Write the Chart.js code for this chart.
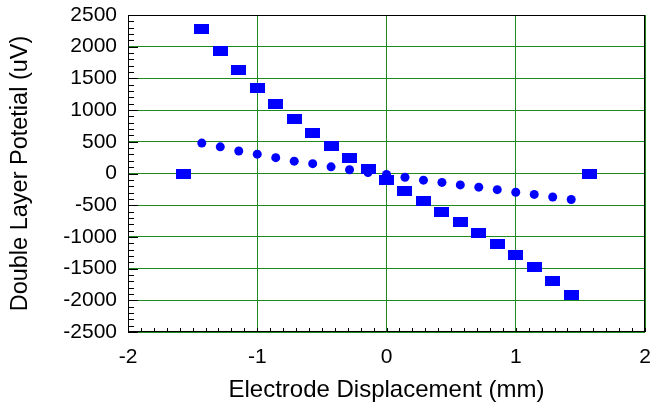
<!DOCTYPE html>
<html>
<head>
<meta charset="UTF-8">
<title>Double Layer Potential</title>
<script src="https://cdn.jsdelivr.net/npm/chart.js"></script>
<style>
    html, body { margin: 0; padding: 0; background: #fff; }
</style>
</head>
<body>
<canvas id="dlpChart" width="650" height="407"></canvas>

<script>
    // square markers
    var squareX = [-1.571, -1.429, -1.286, -1.143, -1.0, -0.857, -0.714, -0.571, -0.429, -0.286, -0.143, 0,
                   0.143, 0.286, 0.429, 0.571, 0.714, 0.857, 1.0, 1.143, 1.286, 1.429, 1.571];
    var squareY = [0, 2280, 1940, 1630, 1350, 1100, 860, 645, 440, 250, 75, -100,
                   -270, -440, -600, -770, -940, -1110, -1290, -1480, -1690, -1910, 0];

    // circle markers
    var circleX = [-1.429, -1.286, -1.143, -1.0, -0.857, -0.714, -0.571, -0.429, -0.286, -0.143, 0,
                   0.143, 0.286, 0.429, 0.571, 0.714, 0.857, 1.0, 1.143, 1.286, 1.429];
    var circleY = [480, 420, 355, 305, 250, 195, 155, 105, 60, 15, -15,
                   -60, -105, -140, -180, -215, -255, -295, -330, -370, -410];

    var xTicks = [-2, -1, 0, 1, 2];
    var yTicks = [-2500, -2000, -1500, -1000, -500, 0, 500, 1000, 1500, 2000, 2500];

    var blue = '#0000ff';
    var gridGreen = '#1f8a1f';
    var fontFamily = "'Liberation Sans', Arial, Helvetica, sans-serif";

    function toPoints(xs, ys) {
        return xs.map(function(x, i) { return { x: x, y: ys[i] }; });
    }

    // flat rectangle used as the square marker
    var rectMark = document.createElement('canvas');
    rectMark.width = 15;
    rectMark.height = 10;
    var g = rectMark.getContext('2d');
    g.fillStyle = blue;
    g.fillRect(0, 0, 15, 10);

    // frame + minor ticks
    var frameTicks = {
        id: 'frameTicks',
        beforeDatasetsDraw: function(chart) {
            var c = chart.ctx, a = chart.chartArea;
            var xs = chart.scales.x, ys = chart.scales.y;
            c.save();
            c.strokeStyle = '#000';
            c.lineWidth = 1;
            c.beginPath();
            for (var v = -2500; v <= 2500; v += 100) {
                var py = Math.round(ys.getPixelForValue(v)) + 0.5;
                var len = (v % 500 === 0) ? 10 : 6;
                c.moveTo(a.left, py);
                c.lineTo(a.left + len, py);
            }
            for (var k = -20; k <= 20; k++) {
                var px = Math.round(xs.getPixelForValue(k / 10)) + 0.5;
                c.moveTo(px, a.bottom);
                c.lineTo(px, a.bottom - 4);
            }
            c.stroke();
            c.strokeRect(Math.round(a.left) + 0.5, Math.round(a.top) + 0.5,
                Math.round(a.right - a.left) - 1, Math.round(a.bottom - a.top) - 1);
            c.restore();
        }
    };

    function plain(value) {
        return String(value);
    }

    var ctx = document.getElementById('dlpChart').getContext('2d');
    var dlpChart = new Chart(ctx, {
        type: 'scatter',
        data: {
            datasets: [{
                label: 'squares',
                data: toPoints(squareX, squareY),
                pointStyle: rectMark,
                backgroundColor: blue,
                borderColor: blue
            }, {
                label: 'circles',
                data: toPoints(circleX, circleY),
                pointStyle: 'circle',
                pointRadius: 4.5,
                backgroundColor: blue,
                borderColor: blue,
                borderWidth: 0
            }]
        },
        options: {
            responsive: false,
            animation: false,
            layout: { padding: { top: 15, right: 4, left: 0, bottom: 0 } },
            plugins: {
                legend: { display: false },
                tooltip: { enabled: false }
            },
            scales: {
                x: {
                    type: 'linear',
                    min: -2,
                    max: 2,
                    afterBuildTicks: function(scale) {
                        scale.ticks = xTicks.map(function(v) { return { value: v }; });
                    },
                    afterFit: function(scale) {
                        scale.height = 75;
                        scale.paddingLeft = 0;
                        scale.paddingRight = 0;
                    },
                    ticks: {
                        color: '#000',
                        padding: 13,
                        maxRotation: 0,
                        autoSkip: false,
                        callback: plain,
                        font: { family: fontFamily, size: 21 }
                    },
                    grid: { color: gridGreen, drawTicks: false },
                    border: { display: false },
                    title: {
                        display: true,
                        text: 'Electrode Displacement (mm)',
                        color: '#000',
                        padding: { top: 0, bottom: 2 },
                        font: { family: fontFamily, size: 24 }
                    }
                },
                y: {
                    type: 'linear',
                    min: -2500,
                    max: 2500,
                    afterBuildTicks: function(scale) {
                        scale.ticks = yTicks.map(function(v) { return { value: v }; });
                    },
                    afterFit: function(scale) {
                        scale.width = 128;
                        scale.paddingTop = 0;
                        scale.paddingBottom = 0;
                    },
                    ticks: {
                        color: '#000',
                        padding: 11,
                        autoSkip: false,
                        callback: plain,
                        font: { family: fontFamily, size: 21 }
                    },
                    grid: { color: gridGreen, drawTicks: false },
                    border: { display: false },
                    title: {
                        display: true,
                        text: 'Double Layer Potetial (uV)',
                        color: '#000',
                        padding: { top: 6, bottom: 0 },
                        font: { family: fontFamily, size: 23.5 }
                    }
                }
            }
        },
        plugins: [frameTicks]
    });
</script>
</body>
</html>
